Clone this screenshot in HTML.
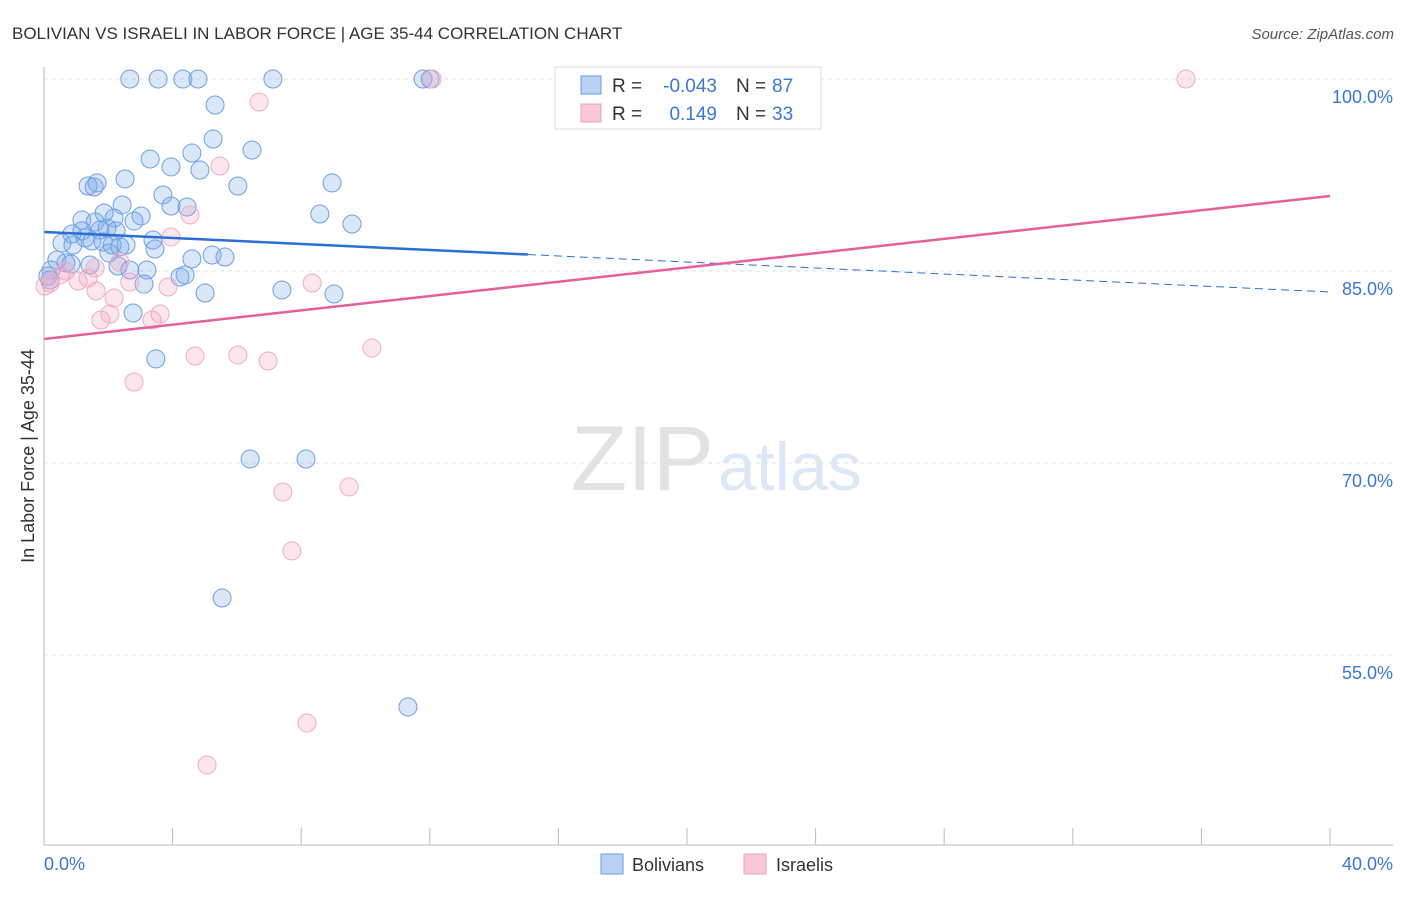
<!DOCTYPE html>
<html><head><meta charset="utf-8"><style>
body{margin:0;background:#fff;font-family:"Liberation Sans",sans-serif}
svg text{font-family:"Liberation Sans",sans-serif}
</style></head><body>
<svg id="c" width="1406" height="892">
<text x="12" y="39" font-size="17" fill="#333">BOLIVIAN VS ISRAELI IN LABOR FORCE | AGE 35-44 CORRELATION CHART</text>
<text x="1394" y="39" font-size="15" fill="#555" font-style="italic" text-anchor="end">Source: ZipAtlas.com</text>
<text x="714" y="490" font-size="92" fill="#e2e2e2" font-family="Liberation Serif" text-anchor="end">ZIP</text>
<text x="718" y="490" font-size="68" fill="#dde8f6">atlas</text>
<text x="34" y="456" font-size="18" fill="#333" text-anchor="middle" transform="rotate(-90 34 456)">In Labor Force | Age 35-44</text>
<g id="grid"></g><g id="pts"></g><g id="lines"></g>
<line x1="44" y1="67" x2="44" y2="845" stroke="#bbb"/>
<line x1="44" y1="845" x2="1393" y2="845" stroke="#bbb"/>
<text x="44" y="870" font-size="18" fill="#3a78d4">0.0%</text>
<text x="1393" y="870" font-size="18" fill="#3a78d4" text-anchor="end">40.0%</text>
<g>
<rect x="555" y="67" width="266" height="62" fill="#fff" stroke="#ddd"/>
<rect x="581" y="76" width="20" height="18" fill="#b8d2f4" stroke="#6a9be0"/>
<rect x="581" y="104" width="20" height="18" fill="#f9c8d6" stroke="#f0a0b8"/>
<text x="612" y="92" font-size="19" fill="#333">R =</text>
<text x="717" y="92" font-size="19" fill="#3a78d4" text-anchor="end">-0.043</text>
<text x="736" y="92" font-size="19" fill="#333">N =</text>
<text x="772" y="92" font-size="19" fill="#3a78d4">87</text>
<text x="612" y="120" font-size="19" fill="#333">R =</text>
<text x="717" y="120" font-size="19" fill="#3a78d4" text-anchor="end">0.149</text>
<text x="736" y="120" font-size="19" fill="#333">N =</text>
<text x="772" y="120" font-size="19" fill="#3a78d4">33</text>
</g>
<g><rect x="601" y="854" width="22" height="20" fill="#b8d2f4" stroke="#6a9be0"/><text x="632" y="871" font-size="18" fill="#333">Bolivians</text></g>
<g><rect x="744" y="854" width="22" height="20" fill="#f9c8d6" stroke="#f0a0b8"/><text x="776" y="871" font-size="18" fill="#333">Israelis</text></g>
</svg>
<script>
const yTicks=[100,85,70,55];
const yTickLabels=["100.0%","85.0%","70.0%","55.0%"];
const xTicks=[0,4,8,12,16,20,24,28,32,36,40];
const bolX=[2.67,3.55,4.32,4.79,7.12,11.79,12.01,5.32,5.26,6.47,3.30,4.60,3.95,4.85,2.52,1.65,1.37,1.56,6.03,8.96,3.70,3.95,4.45,2.43,8.58,9.58,1.87,3.02,1.18,1.59,2.18,2.80,0.56,0.87,1.18,1.28,1.74,1.96,2.24,0.90,1.49,1.84,2.12,2.36,2.55,3.39,3.45,2.02,0.40,0.68,0.84,1.43,2.30,3.20,2.67,4.60,5.23,5.63,4.23,4.39,0.22,0.12,0.19,3.11,5.01,7.40,9.02,2.77,3.48,6.41,8.15,5.54,11.32];
const bolY=[100,100,100,100,100,100,100,97.97,95.31,94.45,93.75,94.22,93.13,92.89,92.19,91.88,91.64,91.56,91.64,91.88,90.94,90.08,90.0,90.16,89.45,88.67,89.53,89.30,88.98,88.83,89.14,88.91,87.19,87.89,88.13,87.58,88.20,88.36,88.13,87.03,87.34,87.27,87.03,86.88,87.03,87.42,86.72,86.41,85.86,85.63,85.55,85.47,85.39,85.08,85.08,85.94,86.25,86.09,84.53,84.69,85.08,84.61,84.30,83.98,83.28,83.52,83.20,81.72,78.13,70.31,70.31,59.45,50.94];
const isrX=[12.07,35.52,6.69,5.47,4.54,3.95,2.67,2.18,1.62,1.06,1.77,2.05,3.36,3.61,3.86,8.34,2.80,4.70,6.03,6.97,10.20,7.43,9.49,7.71,8.18,5.07,1.59,0.68,0.50,0.19,0.03,1.37,2.36];
const isrY=[100,100,98.20,93.20,89.38,87.66,84.14,82.89,83.44,84.22,81.17,81.64,81.17,81.64,83.75,84.06,76.33,78.36,78.44,77.97,78.98,67.73,68.13,63.13,49.69,46.41,85.23,85.0,84.69,84.06,83.83,84.45,85.70];
const bolTrend=[88.05,83.36], bolSolidEnd=15.05;
const isrTrend=[79.69,90.86];
const NS="http://www.w3.org/2000/svg";
const sx=v=>44+v/40*1286, sy=v=>79+(100-v)*12.8;
function mk(t,a,p){const e=document.createElementNS(NS,t);for(const k in a)e.setAttribute(k,a[k]);p.appendChild(e);return e;}
const grid=document.getElementById('grid'),pts=document.getElementById('pts'),lines=document.getElementById('lines');
yTicks.forEach((v,i)=>{
 const l=mk('line',{x1:44,x2:1393,y1:sy(v),y2:sy(v),stroke:'#e2e2e2','stroke-dasharray':'4 4'},grid);
 
 
 const t=mk('text',{x:1393,y:sy(v)+24,'font-size':18,fill:'#3a78d4','text-anchor':'end'},grid);
 t.textContent=yTickLabels[i];
 
 
});
xTicks.forEach(v=>{
 const l=mk('line',{x1:sx(v),x2:sx(v),y1:828,y2:845,stroke:'#bbb'},grid);
 
 
});
bolX.forEach((x,i)=>{
 const c=mk('circle',{cx:sx(x),cy:sy(bolY[i]),r:9,fill:'rgba(120,170,235,0.28)',stroke:'#6e9fe2','stroke-width':1},pts);
 
 
});
isrX.forEach((x,i)=>{
 const c=mk('circle',{cx:sx(x),cy:sy(isrY[i]),r:9,fill:'rgba(245,165,195,0.28)',stroke:'#f2aac0','stroke-width':1},pts);
 
 
});
const by=x=>bolTrend[0]+(bolTrend[1]-bolTrend[0])*x/40;
const b1=mk('line',{x1:sx(0),y1:sy(by(0)),x2:sx(bolSolidEnd),y2:sy(by(bolSolidEnd)),stroke:'#2a6fd6','stroke-width':2.5},lines);


const b2=mk('line',{x1:sx(bolSolidEnd),y1:sy(by(bolSolidEnd)),x2:sx(40),y2:sy(by(40)),stroke:'#2a6fd6','stroke-width':1,'stroke-dasharray':'8 5'},lines);


const p1=mk('line',{x1:sx(0),y1:sy(isrTrend[0]),x2:sx(40),y2:sy(isrTrend[1]),stroke:'#e8609a','stroke-width':2.5},lines);


</script>
</body></html>
